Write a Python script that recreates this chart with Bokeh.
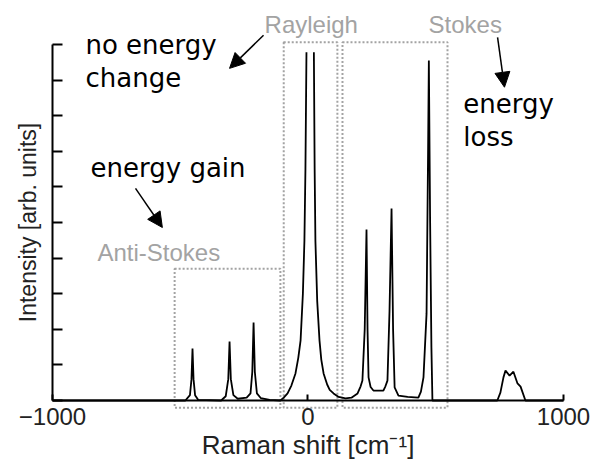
import numpy as np
from bokeh.plotting import figure
from bokeh.models import Range1d, FixedTicker, Label, Arrow, NormalHead
from bokeh.embed import file_html
from bokeh.resources import INLINE

# Raman spectrum trace: shift in cm^-1, intensity in arbitrary units.
# The Rayleigh line runs off the top of the axis, so the trace is broken there.
shift = [-1000, -480, -462, -456, -452, -448, -442, -430, -340, -322, -312,
         -307, -302, -292, -275, -240, -225, -218, -213, -208, -200, -185,
         -150, -108, -95, -80, -65, -49, -38, -29, -20, -14, -10, -6, np.nan,
         23, 26, 29, 36, 45, 52, 61, 75, 85, 100, 120, 147, 170, 194, 206, 213,
         222, 229, 233, 237, 245, 256, 295, 303, 311, 319, 327, 333, 339, 354,
         390, 432, 442, 452, 464, 470, 473, 478, 483, 487, 741, 753, 765, 773,
         789, 804, 820, 832, 851, 1000]
intensity = [0, 0, 0.15, 0.6, 1.46, 0.6, 0.15, 0.02, 0, 0.12, 0.6,
             1.66, 0.6, 0.15, 0.05, 0.08, 0.2, 0.8, 2.19, 0.8, 0.2, 0.07,
             0.02, 0, 0.08, 0.2, 0.42, 0.76, 1.2, 1.69, 3.0, 4.49, 6.5, 9.78, np.nan,
             9.78, 6.5, 4.49, 2.8, 1.69, 1.15, 0.76, 0.45, 0.3, 0.2, 0.1, 0.06, 0.08, 0.2, 0.4, 0.56,
             2.0, 4.8, 2.0, 0.65, 0.38, 0.28, 0.28, 0.4, 0.56, 2.5, 5.39, 2.0, 0.37, 0.14,
             0.1, 0.08, 0.25, 0.65, 2.44, 7.0, 9.55, 5.0, 1.5, 0, 0, 0.22, 0.65, 0.84,
             0.70, 0.81, 0.48, 0.39, 0, 0]

# Dotted frames around the three scattering regions
region_left = [-522, -95, 135]
region_right = [-108, 115, 546]
region_bottom = [-0.2, -0.2, -0.2]
region_top = [3.70, 10.06, 10.06]

x_ticks = [-1000, 0, 1000]
x_tick_labels = ["\u22121000", "0", "1000"]
y_ticks = list(range(0, 11))

LABEL_FONT = "Liberation Sans"
NOTE_FONT = "DejaVu Sans"
GREY = "#a3a3a3"

# The frame fills the whole canvas; both axes are pinned inside it so that
# annotations and region frames can sit around the plotted area.
p = figure(width=592, height=461, output_backend="svg", toolbar_location=None,
           x_range=Range1d(-1203.5, 1113.5), y_range=Range1d(-1.713, 11.236),
           min_border_left=0, min_border_right=0,
           min_border_top=0, min_border_bottom=0)
p.title.visible = False
p.outline_line_color = None
p.grid.visible = False
p.background_fill_color = "white"
p.border_fill_color = "white"

# Region frames
p.quad(left=region_left, right=region_right, bottom=region_bottom, top=region_top,
       fill_color=None, line_color=GREY, line_width=2, line_dash="2 2")

# Spectrum
p.line(shift, intensity, line_color="black", line_width=1.8)

# x axis sits on the zero-intensity baseline
xa = p.xaxis[0]
xa.fixed_location = 0
xa.bounds = (-1000, 1000)
xa.ticker = FixedTicker(ticks=x_ticks)
xa.major_label_overrides = {t: s for t, s in zip(x_ticks, x_tick_labels)}
xa.minor_tick_line_color = None
xa.major_tick_in = 6
xa.major_tick_out = 0
xa.major_tick_line_width = 2
xa.major_tick_line_color = "black"
xa.axis_line_width = 2
xa.axis_line_color = "black"
xa.major_label_text_font = LABEL_FONT
xa.major_label_text_font_size = "24px"
xa.major_label_text_color = "#222222"
xa.major_label_standoff = 7
xa.axis_label = "Raman shift [cm\u207b\u00b9]"
xa.axis_label_text_font = LABEL_FONT
xa.axis_label_text_font_size = "26px"
xa.axis_label_text_font_style = "normal"
xa.axis_label_text_color = "#222222"
xa.axis_label_standoff = 2

ya = p.yaxis[0]
ya.fixed_location = -1000
ya.bounds = (0, 10)
ya.ticker = FixedTicker(ticks=y_ticks)
ya.major_label_overrides = {t: "" for t in y_ticks}
ya.major_label_text_font_size = "0px"
ya.major_label_standoff = 0
ya.minor_tick_line_color = None
ya.major_tick_in = 10
ya.major_tick_out = 0
ya.major_tick_line_width = 2
ya.major_tick_line_color = "black"
ya.axis_line_width = 2
ya.axis_line_color = "black"
ya.axis_label = "Intensity [arb. units]"
ya.axis_label_text_font = LABEL_FONT
ya.axis_label_text_font_size = "23px"
ya.axis_label_text_font_style = "normal"
ya.axis_label_text_color = "#222222"
ya.axis_label_standoff = 12

# Region names
for txt, x, y in [("Rayleigh", -170, 10.55), ("Stokes", 472, 10.55),
                  ("Anti-Stokes", -824, 4.15)]:
    p.add_layout(Label(x=x, y=y, text=txt, text_font=LABEL_FONT,
                       text_font_size="24px", text_color=GREY,
                       text_align="left", text_baseline="alphabetic"))

# Energy annotations
for txt, x, y in [("no energy", -871, 10.0), ("change", -871, 9.07),
                  ("energy gain", -851, 6.52),
                  ("energy", 608, 8.33), ("loss", 608, 7.40)]:
    p.add_layout(Label(x=x, y=y, text=txt, text_font=NOTE_FONT,
                       text_font_size="26px", text_color="black",
                       text_align="left", text_baseline="alphabetic"))

# Arrows pointing from each region name to its description
for xs, ys, xe, ye in [(-174, 10.26, -307, 9.33),
                       (-675, 5.96, -570, 4.86),
                       (742, 10.20, 769, 8.80)]:
    p.add_layout(Arrow(end=NormalHead(size=15, fill_color="black",
                                      line_color="black", line_width=1),
                       x_start=xs, y_start=ys, x_end=xe, y_end=ye,
                       line_color="black", line_width=1.5))

open("out.html", "w").write(file_html(p, INLINE))
